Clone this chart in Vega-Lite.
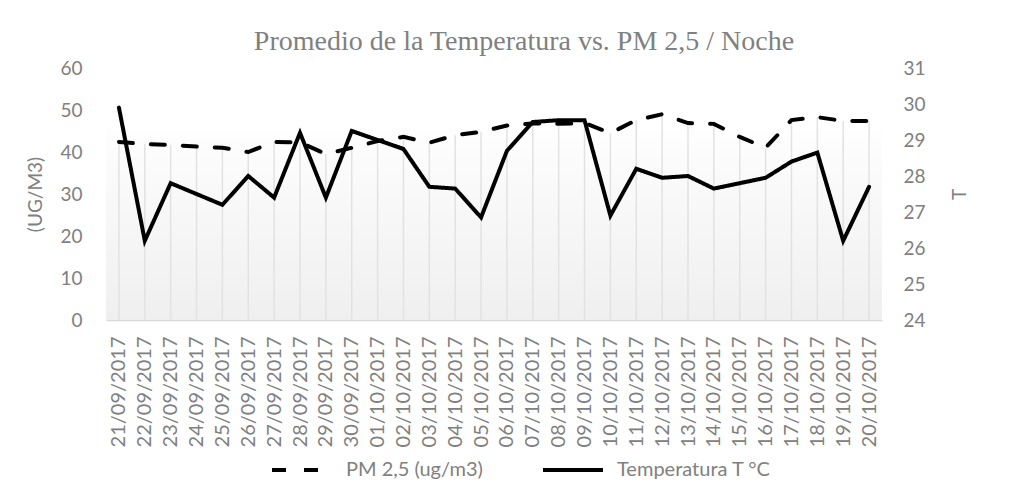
{
  "$schema": "https://vega.github.io/schema/vega-lite/v6.json",
  "width": 776,
  "height": 252,
  "autosize": {"type": "none"},
  "padding": {"left": 106, "top": 68, "right": 149, "bottom": 169},
  "background": "white",
  "config": {
    "font": "Lato",
    "view": {"stroke": null},
    "axis": {"labelColor": "#808080", "titleColor": "#808080", "titleFontWeight": "normal", "grid": false, "ticks": false, "labelFont": "Lato", "titleFont": "Lato"},
    "legend": {"labelColor": "#808080", "labelFont": "Lato"}
  },
  "title": {
    "text": "Promedio de la Temperatura vs. PM 2,5 / Noche",
    "font": "Liberation Serif",
    "fontSize": 28,
    "fontWeight": "normal",
    "color": "#808080",
    "anchor": "middle",
    "offset": 3,
    "dx": 30
  },
  "data": {
    "values": [
      {"fecha": "21/09/2017", "pm": 42.4, "temp": 29.9},
      {"fecha": "22/09/2017", "pm": 41.9, "temp": 26.2},
      {"fecha": "23/09/2017", "pm": 41.7, "temp": 27.8},
      {"fecha": "24/09/2017", "pm": 41.3, "temp": 27.5},
      {"fecha": "25/09/2017", "pm": 41.0, "temp": 27.2},
      {"fecha": "26/09/2017", "pm": 40.0, "temp": 28.0},
      {"fecha": "27/09/2017", "pm": 42.4, "temp": 27.4},
      {"fecha": "28/09/2017", "pm": 42.3, "temp": 29.2},
      {"fecha": "29/09/2017", "pm": 39.5, "temp": 27.4},
      {"fecha": "30/09/2017", "pm": 41.0, "temp": 29.25},
      {"fecha": "01/10/2017", "pm": 42.6, "temp": 29.0},
      {"fecha": "02/10/2017", "pm": 43.6, "temp": 28.75},
      {"fecha": "03/10/2017", "pm": 42.2, "temp": 27.7},
      {"fecha": "04/10/2017", "pm": 44.0, "temp": 27.65},
      {"fecha": "05/10/2017", "pm": 44.8, "temp": 26.85},
      {"fecha": "06/10/2017", "pm": 46.3, "temp": 28.7},
      {"fecha": "07/10/2017", "pm": 46.8, "temp": 29.5},
      {"fecha": "08/10/2017", "pm": 46.7, "temp": 29.55},
      {"fecha": "09/10/2017", "pm": 46.9, "temp": 29.55},
      {"fecha": "10/10/2017", "pm": 44.5, "temp": 26.9},
      {"fecha": "11/10/2017", "pm": 47.6, "temp": 28.2},
      {"fecha": "12/10/2017", "pm": 49.0, "temp": 27.95},
      {"fecha": "13/10/2017", "pm": 46.9, "temp": 28.0},
      {"fecha": "14/10/2017", "pm": 46.7, "temp": 27.65},
      {"fecha": "15/10/2017", "pm": 43.6, "temp": 27.8},
      {"fecha": "16/10/2017", "pm": 41.0, "temp": 27.95},
      {"fecha": "17/10/2017", "pm": 47.6, "temp": 28.4},
      {"fecha": "18/10/2017", "pm": 48.3, "temp": 28.65},
      {"fecha": "19/10/2017", "pm": 47.4, "temp": 26.2},
      {"fecha": "20/10/2017", "pm": 47.4, "temp": 27.7}
    ]
  },
  "layer": [
    {
      "layer": [
        {
          "mark": {
            "type": "rect",
            "color": {
              "gradient": "linear",
              "x1": 0, "y1": 0, "x2": 0, "y2": 1,
              "stops": [
                {"offset": 0, "color": "#fefefe"},
                {"offset": 1, "color": "#efefef"}
              ]
            }
          },
          "encoding": {
            "y": {"datum": 45.7, "type": "quantitative", "scale": {"domain": [0, 60]}},
            "y2": {"datum": 0}
          }
        },
        {
          "mark": {"type": "rule", "color": "#e2e2e2", "strokeWidth": 1.5},
          "encoding": {
            "x": {"field": "fecha", "type": "ordinal", "sort": null, "scale": {"type": "point", "padding": 0.5}},
            "y": {"field": "pm", "type": "quantitative", "scale": {"domain": [0, 60]}},
            "y2": {"datum": 0}
          }
        },
        {
          "mark": {"type": "line", "color": "black", "strokeWidth": 4, "strokeCap": "round"},
          "encoding": {
            "x": {"field": "fecha", "type": "ordinal", "sort": null, "scale": {"type": "point", "padding": 0.5},
              "axis": {"labelAngle": -90, "labelFontSize": 20, "labelPadding": 16, "domainColor": "#d9d9d9", "domainWidth": 1.5, "title": null}},
            "y": {"field": "pm", "type": "quantitative", "scale": {"domain": [0, 60]},
              "axis": {"orient": "left", "values": [0, 10, 20, 30, 40, 50, 60], "domain": false, "labelFontSize": 19, "labelPadding": 24, "title": "(UG/M3)", "titleFontSize": 19, "titlePadding": 14}},
            "strokeDash": {
              "datum": "PM 2,5 (ug/m3)",
              "scale": {"domain": ["PM 2,5 (ug/m3)", "Temperatura T °C"], "range": [[14, 18], [1, 0]]},
              "legend": {
                "orient": "none", "legendX": 164, "legendY": 370, "direction": "horizontal", "title": null,
                "symbolType": "stroke", "symbolSize": 3600, "symbolStrokeWidth": 4, "symbolStrokeColor": "black",
                "labelFontSize": 20, "labelOffset": 12, "columnPadding": 52
              }
            }
          }
        }
      ]
    },
    {
      "mark": {"type": "line", "color": "black", "strokeWidth": 4, "strokeCap": "round"},
      "encoding": {
        "x": {"field": "fecha", "type": "ordinal", "sort": null, "scale": {"type": "point", "padding": 0.5}},
        "y": {"field": "temp", "type": "quantitative", "scale": {"domain": [24, 31], "zero": false},
          "axis": {"orient": "right", "values": [24, 25, 26, 27, 28, 29, 30, 31], "domain": false, "labelFontSize": 19, "labelPadding": 21, "title": "T", "titleAngle": -90, "titleFontSize": 19, "titlePadding": 44}},
        "strokeDash": {"datum": "Temperatura T °C"}
      }
    }
  ],
  "resolve": {"scale": {"y": "independent"}}
}
